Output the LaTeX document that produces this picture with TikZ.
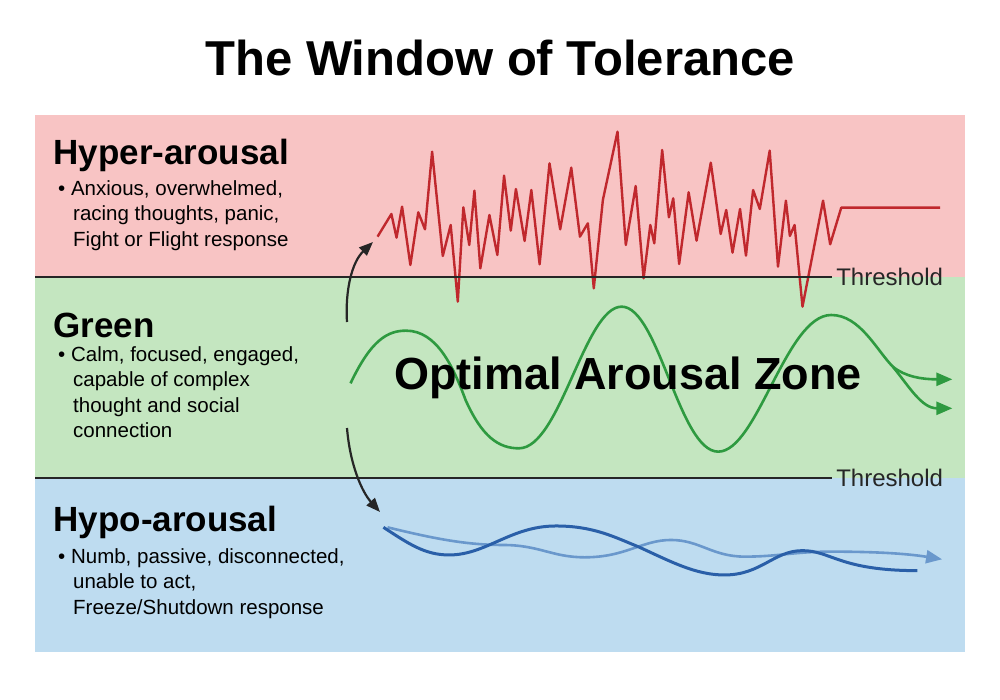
\documentclass[tikz,border=0pt]{standalone}
\usepackage{fontspec}
\setmainfont{Liberation Sans}
\usetikzlibrary{arrows.meta}
\definecolor{bred}{HTML}{F8C4C4}
\definecolor{bgreen}{HTML}{C4E6C0}
\definecolor{bblue}{HTML}{BEDCF0}
\definecolor{lred}{HTML}{C0282D}
\definecolor{lgreen}{HTML}{2E9A40}
\definecolor{ldblue}{HTML}{2A5FA8}
\definecolor{llblue}{HTML}{6A98CC}
\tikzset{
 head/.style={anchor=west,font=\fontsize{35}{38}\selectfont\bfseries},
 body/.style={anchor=north west,align=left,inner sep=0pt,font=\fontsize{20.5}{25.5}\selectfont},
 thr/.style={anchor=west,inner sep=3pt,font=\fontsize{24}{26}\selectfont},
 arr/.style={line width=2.2pt,-{Triangle[length=14pt,width=11pt]},black!85}
}
\begin{document}
\begin{tikzpicture}[x=1pt,y=-1pt]
\useasboundingbox (0,0) rectangle (1000,700);
\fill[white] (0,0) rectangle (1000,700);
\fill[bred] (35,115) rectangle (965,277);
\fill[bgreen] (35,277) rectangle (965,478);
\fill[bblue] (35,478) rectangle (965,652);
\node[font=\fontsize{49}{52}\selectfont\bfseries] (title) at (500,58) {The Window of Tolerance};
% red zigzag
\begin{scope}[shift={(340,110)},xscale=0.3953,yscale=0.3333]
\draw[lred,line width=2.4pt,line join=round] plot coordinates {(95,380)(130,312)(143,383)(157,290)(178,465)(198,307)(215,358)(233,125)(260,438)(280,345)(298,575)(312,292)(327,405)(340,242)(355,475)(378,315)(398,435)(415,197)(432,362)(445,237)(467,393)(484,240)(505,463)(530,160)(557,358)(585,173)(607,380)(627,340)(642,535)(665,270)(702,65)(723,405)(748,228)(768,505)(785,345)(795,400)(815,120)(832,322)(843,265)(858,462)(882,247)(902,392)(938,158)(963,372)(977,300)(993,428)(1012,297)(1027,437)(1045,240)(1062,297)(1087,122)(1108,470)(1128,272)(1138,378)(1150,345)(1170,590)(1222,272)(1240,403)(1268,293)(1518,293)};
\end{scope}
% thresholds
\draw[line width=2.5pt,black!85] (35,277) -- (832,277) node[thr] (t1) {Threshold};
\draw[line width=2.5pt,black!85] (35,478) -- (832,478) node[thr] (t2) {Threshold};
% green wave
\begin{scope}[shift={(330,290)},xscale=0.4108,yscale=0.3333]
\draw[lgreen,line width=2.6pt] (50,280) .. controls (100,150) and (140,122) .. (185,122)
 .. controls (260,122) and (300,230) .. (330,330)
 .. controls (370,440) and (410,475) .. (460,475)
 .. controls (560,475) and (620,50) .. (710,50)
 .. controls (800,50) and (850,485) .. (945,485)
 .. controls (1040,485) and (1110,75) .. (1220,75)
 .. controls (1290,75) and (1330,180) .. (1370,230) coordinate (split);
\draw[lgreen,line width=2.6pt,-{Triangle[length=16pt,width=13pt]}] (split) .. controls (1400,260) and (1440,268) .. (1515,268);
\draw[lgreen,line width=2.6pt,-{Triangle[length=16pt,width=13pt]}] (split) .. controls (1410,290) and (1440,355) .. (1515,355);
% blue waves
\draw[llblue,line width=2.6pt,-{Triangle[length=16pt,width=13pt]}] (140,712) .. controls (250,745) and (330,765) .. (420,765)
 .. controls (510,765) and (540,802) .. (620,802)
 .. controls (720,802) and (760,750) .. (830,750)
 .. controls (900,750) and (930,800) .. (1010,800)
 .. controls (1090,800) and (1130,785) .. (1220,785)
 .. controls (1320,785) and (1400,790) .. (1490,808);
\draw[ldblue,line width=3pt] (130,712) .. controls (190,760) and (230,795) .. (290,795)
 .. controls (380,795) and (440,708) .. (550,708)
 .. controls (640,708) and (690,740) .. (750,770)
 .. controls (830,815) and (890,855) .. (960,855)
 .. controls (1050,855) and (1080,782) .. (1150,782)
 .. controls (1220,782) and (1240,842) .. (1430,842);
\end{scope}
\node[font=\fontsize{45}{48}\selectfont\bfseries] (opt) at (628,378) {Optimal Arousal Zone};
% black arrows
\coordinate (u0) at (347,322); \coordinate (u1) at (373,242);
\draw[arr] (u0) .. controls (345,290) and (352,262) .. (u1);
\coordinate (d0) at (347,428); \coordinate (d1) at (380,512);
\draw[arr] (d0) .. controls (350,465) and (362,492) .. (d1);
% texts
\node[head] (h1) at (50,155) {Hyper-arousal};
\node[body] (b1) at (58,180) {• Anxious, overwhelmed,\\\hspace*{15pt}racing thoughts, panic,\\\hspace*{15pt}Fight or Flight response};
\node[head] (h2) at (50,325) {Green};
\node[body] (b2) at (58,346) {• Calm, focused, engaged,\\\hspace*{15pt}capable of complex\\\hspace*{15pt}thought and social\\\hspace*{15pt}connection};
\node[head] (h3) at (50,522) {Hypo-arousal};
\node[body] (b3) at (58,548) {• Numb, passive, disconnected,\\\hspace*{15pt}unable to act,\\\hspace*{15pt}Freeze/Shutdown response};
\end{tikzpicture}
\end{document}
